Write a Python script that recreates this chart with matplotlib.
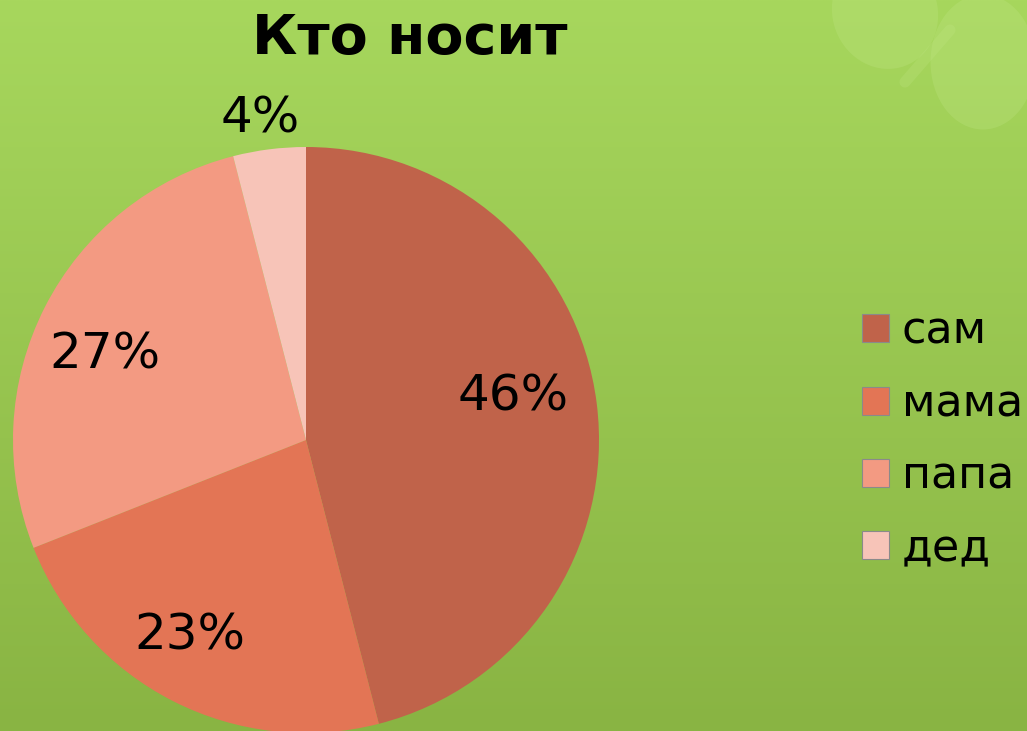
import numpy as np
import matplotlib
matplotlib.use("Agg")
import matplotlib.pyplot as plt
from matplotlib.patches import Patch, Ellipse

title = "Кто носит"
categories = ["сам", "мама", "папа", "дед"]
values = [46, 23, 27, 4]
colors = ["#C0634A", "#E37555", "#F39A82", "#F7C4B8"]
# label centres as (radius fraction, angle in degrees) around pie centre
label_pos = [(0.721, 11.8), (0.775, -120.7), (0.746, 157.0), (1.110, 98.1)]

plt.rcParams['font.family'] = ['DejaVu Sans']

W, H = 1027, 731
fig = plt.figure(figsize=(W / 100, H / 100), dpi=100)

# background gradient
bg = fig.add_axes([0, 0, 1, 1])
bg.set_axis_off()
top = np.array([167, 215, 93]) / 255
bot = np.array([137, 180, 67]) / 255
t = np.linspace(0, 1, 256)[:, None, None]
grad = top * (1 - t) + bot * t
grad = np.repeat(grad, 4, axis=1)
bg.imshow(grad, aspect='auto', extent=[0, W, 0, H], origin='upper')
# faint clover decoration top right (pixel coords, y up)
for (ex, ey, w, h, a) in [(885, H - 12, 105, 115, 20), (983, H - 62, 105, 135, 0)]:
    bg.add_patch(Ellipse((ex, ey), w, h, angle=a, facecolor='#C4E88A', alpha=0.25,
                         edgecolor='none'))
bg.plot([950, 905], [H - 30, H - 82], color='#C4E88A', alpha=0.22, lw=8,
        solid_capstyle='round')
bg.set_xlim(0, W)
bg.set_ylim(0, H)

# pie axes
cx, cy, r = 306, 440, 293
ax = fig.add_axes([(cx - r) / W, (H - cy - r) / H, 2 * r / W, 2 * r / H])
wedges, _ = ax.pie(values, colors=colors, startangle=90, counterclock=False,
                   radius=1, wedgeprops=dict(edgecolor='none'), normalize=True)
ax.set_xlim(-1, 1)
ax.set_ylim(-1, 1)
ax.set_axis_off()
for v, (d, a) in zip(values, label_pos):
    ang = np.deg2rad(a)
    ax.text(d * np.cos(ang), d * np.sin(ang), f"{v}%", ha='center', va='center',
            fontsize=36, color='black', clip_on=False)
for wdg in wedges:
    wdg.set_clip_on(False)

fig.text(410 / W, 1 - 39 / H, title, ha='center', va='center', fontsize=40,
         fontweight='bold', color='black')

handles = [Patch(facecolor=c, edgecolor='#8a8a8a', linewidth=0.8) for c in colors]
fig.legend(handles, categories, loc='center left', bbox_to_anchor=(862 / W, 1 - 440 / H),
           frameon=False, fontsize=32, handlelength=0.6, handleheight=0.6,
           handletextpad=0.3, labelspacing=0.66, borderpad=0, borderaxespad=0)

fig.savefig("out.png", dpi=100)
